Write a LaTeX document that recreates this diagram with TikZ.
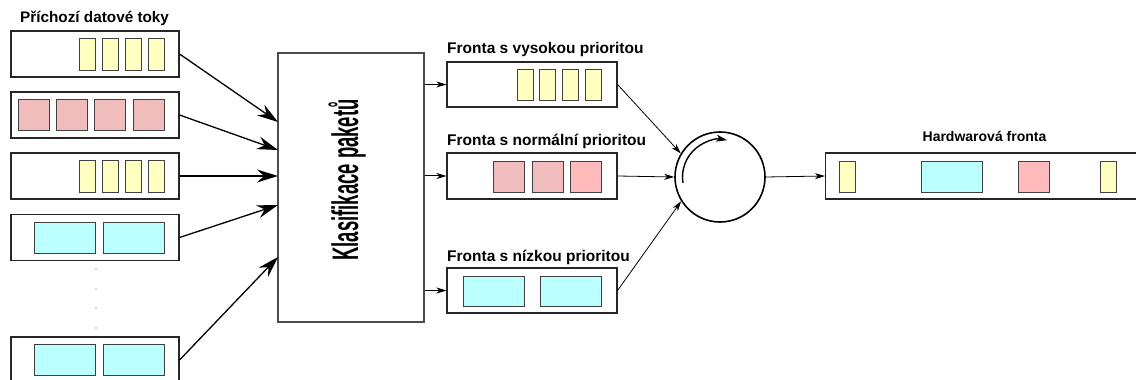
\documentclass[tikz,border=0pt]{standalone}
\usepackage{fontspec}
\setmainfont{Liberation Sans}
\usetikzlibrary{arrows.meta}
\definecolor{pkyellow}{HTML}{FFFFC0}
\definecolor{pkpink}{HTML}{F0BCBC}
\definecolor{pkpinkb}{HTML}{FFBBBB}
\definecolor{pkcyan}{HTML}{BBFFFF}
\definecolor{pkedge}{HTML}{404040}
\tikzset{
  queuebox/.style={draw=black!85, line width=1.1pt, fill=white, minimum width=#1, minimum height=46pt, inner sep=0pt},
  queuebox/.default=168pt,
  pkt/.style={draw=pkedge, line width=0.9pt, inner sep=0pt},
  ylw/.style={pkt, fill=pkyellow, minimum width=16pt, minimum height=32pt},
  pnk/.style={pkt, fill=pkpink, minimum width=31pt, minimum height=31pt},
  pnkb/.style={pkt, fill=pkpinkb, minimum width=31pt, minimum height=31pt},
  cyn/.style={pkt, fill=pkcyan, minimum width=61pt, minimum height=31pt},
  lbl/.style={font=\bfseries\fontsize{#1}{16}\selectfont, inner sep=0pt},
  lbl/.default=14,
  bigarrow/.style={line width=1.3pt, -{Stealth[length=21pt, width=13pt, inset=7pt]}},
  smallarrow/.style={line width=1pt, -{Stealth[length=10pt, width=6pt, inset=3pt]}},
  thinarrow/.style={line width=0.8pt, -{Stealth[length=10pt, width=6pt, inset=3pt]}},
  dotmark/.style={circle, fill=black!70, inner sep=0pt, minimum size=1.4pt}
}
\begin{document}
\begin{tikzpicture}[x=1pt, y=1pt]
\useasboundingbox (0,0) rectangle (1136,380);

% incoming streams
\node[lbl=15.3, anchor=base west] (tin) at (20,357) {Příchozí datové toky};
\node[queuebox] (s1) at (95,326) {};
\node[queuebox] (s2) at (95,265) {};
\node[queuebox] (s3) at (95,204) {};
\node[queuebox] (s4) at (95,142.5) {};
\node[queuebox] (s5) at (95,20) {};

\foreach \x [count=\i] in {87.5,110.3,133.1,156} {
  \node[ylw] (s1p\i) at (\x,326) {};
  \node[ylw] (s3p\i) at (\x,204) {};
}
\foreach \x [count=\i] in {33.5,71.8,110.2,148.5}
  \node[pnk] (s2p\i) at (\x,265) {};
\foreach \x [count=\i] in {64.5,133.5} {
  \node[cyn] (s4p\i) at (\x,142.5) {};
  \node[cyn] (s5p\i) at (\x,20.5) {};
}
\foreach \y [count=\i] in {111,91,72,52}
  \node[dotmark] (d\i) at (96,\y) {};

% classifier
\node[draw=black!70, line width=1.2pt, minimum width=146pt, minimum height=269pt, inner sep=0pt] (clf) at (351,192.5) {};
\node[rotate=90, inner sep=0pt] (clft) at (347,200) {\scalebox{0.5}[1]{\bfseries\fontsize{37}{40}\selectfont Klasifikace paketů}};

\coordinate (c1) at (278,258);
\coordinate (c2) at (278,230);
\coordinate (c3) at (278,204);
\coordinate (c4) at (278,175);
\coordinate (c5) at (278,123);
\draw[bigarrow] (s1.east) -- (c1);
\draw[bigarrow] (s2.east) -- (c2);
\draw[bigarrow] (s3.east) -- (c3);
\draw[bigarrow] (s4.east) -- (c4);
\draw[bigarrow] (s5.east) -- (c5);

% priority queues
\node[lbl=15.5, anchor=base west] (thq) at (447,326) {Fronta s vysokou prioritou};
\node[lbl=15.5, anchor=base west] (tnq) at (447,234) {Fronta s normální prioritou};
\node[lbl=15.5, anchor=base west] (tlq) at (447,118) {Fronta s nízkou prioritou};
\node[queuebox=170pt, minimum height=45pt] (hq) at (532,295.5) {};
\node[queuebox=170pt, minimum height=46pt] (nq) at (532,204) {};
\node[queuebox=170pt, minimum height=45pt] (lq) at (532,89.5) {};
\foreach \x [count=\i] in {525,547.5,570,593}
  \node[ylw, minimum height=31pt] (hqp\i) at (\x,295.5) {};
\node[pnk] (nqp1) at (508.5,203.5) {};
\node[pnk] (nqp2) at (547.5,203.5) {};
\node[pnkb] (nqp3) at (585.5,203.5) {};
\node[cyn, minimum height=30pt] (lqp1) at (493.5,88.5) {};
\node[cyn, minimum height=30pt] (lqp2) at (570.5,88.5) {};

\draw[smallarrow] (clf.east |- hq.west) -- (hq.west);
\draw[smallarrow] (clf.east |- nq.west) -- (nq.west);
\draw[smallarrow] (clf.east |- lq.west) -- (lq.west);

% round-robin scheduler
\node[draw, circle, line width=1.6pt, minimum size=90pt, inner sep=0pt] (rr) at (720,203) {};
\draw[line width=1.4pt, -{Stealth[length=11pt, width=7pt, inset=3pt]}]
  ([shift={(189:37.5)}]rr.center) arc[start angle=189, end angle=79, radius=37.5];
\draw[thinarrow] (hq.east) -- (rr.149);
\draw[thinarrow] (nq.east) -- (rr.west);
\draw[thinarrow] (lq.east) -- (rr.212);

% hardware queue
\node[lbl, anchor=base] (thw) at (984.5,238) {Hardwarová fronta};
\node[queuebox=340pt, anchor=west] (hw) at (825,204) {};
\node[ylw, minimum height=31pt] (hwp1) at (847,203.5) {};
\node[cyn] (hwp2) at (951.5,203.5) {};
\node[pnkb] (hwp3) at (1033.5,203.5) {};
\node[ylw, minimum height=31pt] (hwp4) at (1108.5,203.5) {};
\draw[thinarrow] (rr.east) -- (hw.west);
\end{tikzpicture}
\end{document}
